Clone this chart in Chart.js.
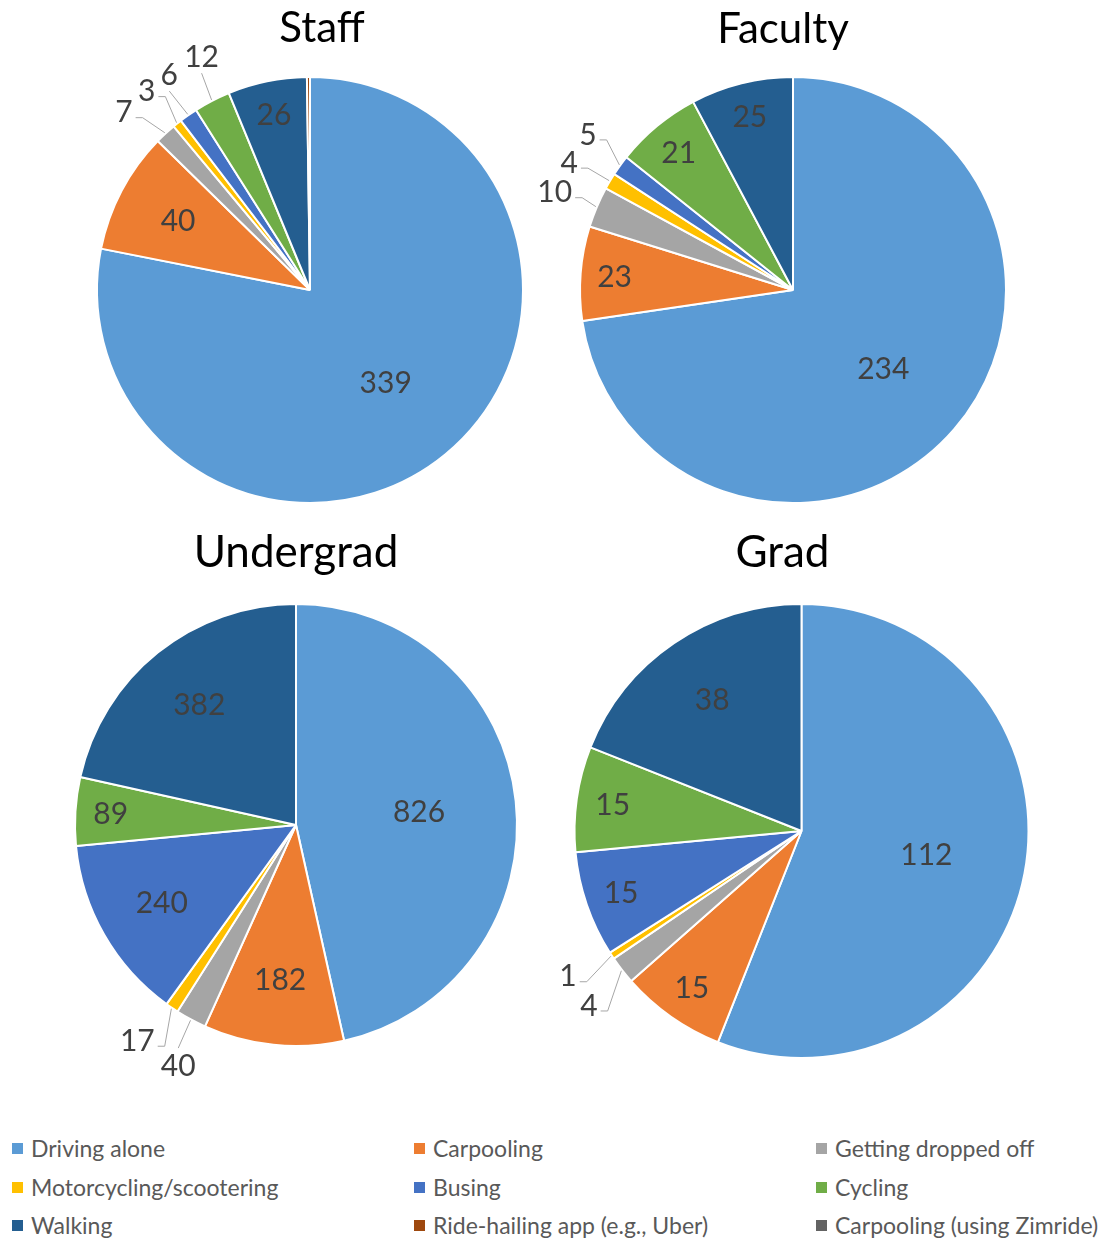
<!DOCTYPE html>
<html>
<head>
<meta charset="utf-8">
<script src="https://cdn.jsdelivr.net/npm/chart.js@4.4.1/dist/chart.umd.min.js"></script>
<style>
  body { margin: 0; background: #fff; }
  #page { position: relative; width: 1106px; height: 1240px; overflow: hidden; font-family: Lato, "Open Sans", sans-serif; }
  #page canvas { position: absolute; }
  .leg { position: absolute; display: flex; align-items: center; font-size: 23px; color: #595959; white-space: nowrap; }
  .leg span.box { width: 11px; height: 11px; margin-right: 8px; display: inline-block; }
</style>
</head>
<body>
<div id="page"></div>
<script>
// modos de transporte, en el orden de las porciones (sentido horario desde arriba)
const categories = [
  "Driving alone",
  "Carpooling",
  "Getting dropped off",
  "Motorcycling/scootering",
  "Busing",
  "Cycling",
  "Walking",
  "Ride-hailing app (e.g., Uber)",
  "Carpooling (using Zimride)",
];
const colors = ["#5B9BD5", "#ED7D31", "#A5A5A5", "#FFC000", "#4472C4", "#70AD47", "#245E90", "#9E480E", "#636363"];

const groups = ["Staff", "Faculty", "Undergrad", "Grad"];
const staff = [339, 40, 7, 3, 6, 12, 26, 1, 0];
const faculty = [234, 23, 10, 4, 5, 21, 25, 0, 0];
const undergrad = [826, 182, 40, 17, 240, 89, 382, 0, 0];
const grad = [112, 15, 4, 1, 15, 15, 38, 0, 0];
const unlabeled = ["Ride-hailing app (e.g., Uber)", "Carpooling (using Zimride)"];

// ubicación de cada torta en la página
const panels = [
  { data: staff, box: [0, 0, 560, 530], cx: 310, cy: 290, r: 213, titleDx: 12, titleBase: 42 },
  { data: faculty, box: [500, 0, 606, 530], cx: 793, cy: 290, r: 213, titleDx: -10, titleBase: 43 },
  { data: undergrad, box: [0, 520, 560, 590], cx: 296, cy: 825, r: 221, titleDx: 0, titleBase: 567 },
  { data: grad, box: [500, 520, 606, 590], cx: 801.5, cy: 831, r: 227, titleDx: -19, titleBase: 567 },
];

const LABEL_FONT = "30px Lato, 'Open Sans', sans-serif";
const LABEL_COLOR = "#404040";

const pieLabels = {
  id: "pieLabels",
  afterDatasetsDraw(chart) {
    const ctx = chart.ctx;
    const meta = chart.getDatasetMeta(0);
    const values = chart.data.datasets[0].data;
    ctx.save();
    ctx.font = LABEL_FONT;
    ctx.fillStyle = LABEL_COLOR;
    ctx.textAlign = "center";
    ctx.textBaseline = "middle";

    const outside = [];
    meta.data.forEach((arc, i) => {
      const v = values[i];
      if (!v || unlabeled.includes(categories[i])) return;
      const span = arc.endAngle - arc.startAngle;
      const mid = (arc.startAngle + arc.endAngle) / 2;
      const R = arc.outerRadius;
      const deg = span * 180 / Math.PI;
      if (deg < 12) {
        outside.push({ v, mid, ang: mid, arc, w: ctx.measureText(String(v)).width });
        return;
      }
      const f = deg > 150 ? 0.56 : deg < 30 ? 0.84 : 0.7;
      ctx.fillText(String(v), arc.x + Math.cos(mid) * f * R, arc.y + Math.sin(mid) * f * R + 1);
    });

    // separar etiquetas externas que se pisan
    const dist = 1.21;
    const pos = (o) => [o.arc.x + Math.cos(o.ang) * dist * o.arc.outerRadius, o.arc.y + Math.sin(o.ang) * dist * o.arc.outerRadius];
    const overlap = (a, b) => {
      const [ax, ay] = pos(a), [bx, by] = pos(b);
      return Math.abs(ax - bx) < (a.w + b.w) / 2 + 5 && Math.abs(ay - by) < 28;
    };
    outside.sort((a, b) => a.ang - b.ang);
    const step = 0.25 * Math.PI / 180;
    for (let k = 0; k < 400; k++) {
      let moved = false;
      for (let i = 1; i < outside.length; i++) {
        if (overlap(outside[i - 1], outside[i])) {
          outside[i - 1].ang -= step;
          outside[i].ang += step;
          moved = true;
        }
      }
      if (!moved) break;
    }

    outside.forEach((o) => {
      const { arc } = o;
      const R = arc.outerRadius;
      const [lx, ly] = pos(o);
      ctx.fillText(String(o.v), lx, ly + 1);

      const ex = arc.x + Math.cos(o.mid) * (R + 1);
      const ey = arc.y + Math.sin(o.mid) * (R + 1);
      const dx = ex - lx, dy = ey - ly;
      ctx.strokeStyle = "#A6A6A6";
      ctx.lineWidth = 1;
      ctx.beginPath();
      if (Math.abs(dy) > Math.abs(dx) * 1.5) {
        const ay = ly + Math.sign(dy) * 17;
        if (Math.hypot(ex - lx, ey - ay) < 8) return;
        ctx.moveTo(lx, ay);
        ctx.lineTo(ex, ey);
      } else {
        const ax = lx + Math.sign(dx) * (o.w / 2 + 3);
        const ay = ly + 6;
        if (Math.hypot(ex - ax, ey - ay) < 12) return;
        ctx.moveTo(ax, ay);
        ctx.lineTo(ax + Math.sign(dx) * 7, ay);
        ctx.lineTo(ex, ey);
      }
      ctx.stroke();
    });
    ctx.restore();
  },
};

const pieTitle = {
  id: "pieTitle",
  afterDraw(chart, args, opts) {
    const ctx = chart.ctx;
    ctx.save();
    ctx.font = opts.font;
    ctx.fillStyle = "#000";
    ctx.textAlign = "center";
    ctx.textBaseline = "alphabetic";
    ctx.fillText(opts.text, opts.x, opts.y);
    ctx.restore();
  },
};

const page = document.getElementById("page");

panels.forEach((p, n) => {
  const [bx, by, bw, bh] = p.box;
  const canvas = document.createElement("canvas");
  canvas.width = bw;
  canvas.height = bh;
  canvas.style.left = bx + "px";
  canvas.style.top = by + "px";
  page.appendChild(canvas);

  new Chart(canvas, {
    type: "pie",
    data: {
      labels: categories,
      datasets: [
        {
          data: p.data,
          backgroundColor: colors,
          borderColor: "#fff",
          borderWidth: 2,
        },
      ],
    },
    options: {
      responsive: false,
      animation: false,
      events: [],
      layout: {
        padding: {
          left: p.cx - bx - p.r - 1,
          top: p.cy - by - p.r - 1,
          right: bx + bw - (p.cx + p.r + 1),
          bottom: by + bh - (p.cy + p.r + 1),
        },
      },
      plugins: {
        legend: { display: false },
        tooltip: { enabled: false },
        pieTitle: {
          text: groups[n],
          font: (n < 2 ? "42px" : "44px") + " Lato, 'Open Sans', sans-serif",
          x: p.cx - bx + p.titleDx,
          y: p.titleBase - by,
        },
      },
    },
    plugins: [pieLabels, pieTitle],
  });
});

// leyenda en tres columnas
const legCols = [12, 414, 816];
const legRows = [1148, 1187, 1225];
categories.forEach((name, i) => {
  const item = document.createElement("div");
  item.className = "leg";
  item.style.left = legCols[i % 3] + "px";
  item.style.top = legRows[Math.floor(i / 3)] - 14 + "px";
  item.style.height = "28px";
  item.innerHTML = `<span class="box" style="background:${colors[i]}"></span>${name}`;
  page.appendChild(item);
});
</script>
</body>
</html>
